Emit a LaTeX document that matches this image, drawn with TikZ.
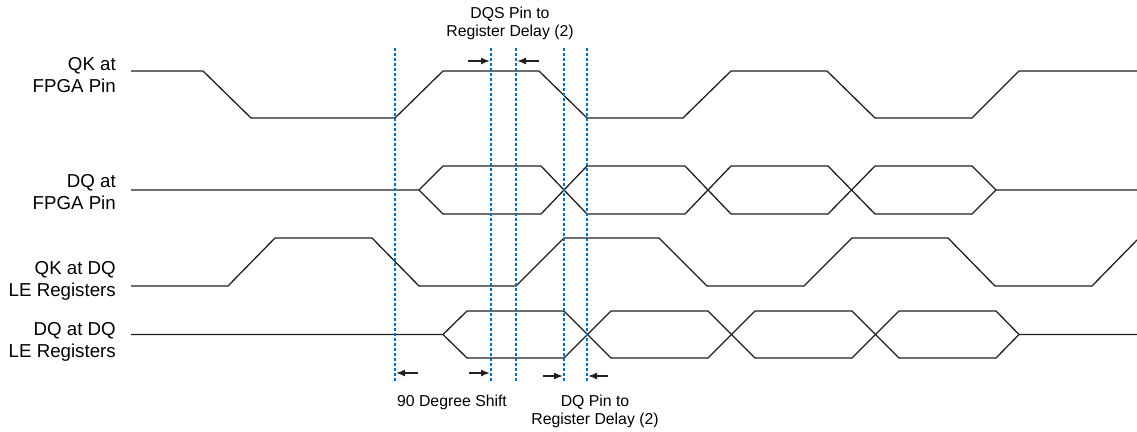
\documentclass[tikz,border=0pt]{standalone}
\usepackage{fontspec}
\setmainfont{Liberation Sans}
\usetikzlibrary{arrows.meta,positioning}
\definecolor{WaveBlack}{RGB}{35,31,32}
\definecolor{MarkBlue}{RGB}{0,114,188}
\tikzset{
  wave/.style={draw=WaveBlack,line width=1.3pt,line join=miter},
  marker/.style={draw=MarkBlue,line width=1.2pt,dash pattern=on 3pt off 2pt},
  dimarrow/.style={-{Latex[length=9pt,width=7pt]},draw=WaveBlack,line width=1.5pt},
  siglabel/.style={anchor=east,align=right,inner sep=0pt,font=\fontsize{18.7}{22}\selectfont},
  notelabel/.style={align=center,inner sep=0pt,font=\fontsize{15.8}{18}\selectfont}
}

\begin{document}
\begin{tikzpicture}[x=1pt,y=-1pt]
\useasboundingbox (0,0) rectangle (1137,431);

% signal names
\node[siglabel] (qkpin) at (116,75) {QK at\\FPGA Pin};
\node[siglabel] (dqpin) at (116,192) {DQ at\\FPGA Pin};
\node[siglabel] (qkreg) at (116,281) {QK at DQ\\LE Registers};
\node[siglabel] (dqreg) at (116,342) {DQ at DQ\\LE Registers};

% QK at FPGA pin
\draw[wave] (131,71) -- (203,71) -- (251,118) -- (395,118) -- (443,71) -- (539,71)
  -- (587,118) -- (683,118) -- (731,71) -- (827,71) -- (875,118) -- (972,118)
  -- (1019,71) -- (1137,71);

% DQ at FPGA pin
\draw[wave] (131,190) -- (419,190) -- (443,166) -- (541,166) -- (587,214) -- (685,214)
  -- (731,166) -- (828,166) -- (875,214) -- (972,214) -- (996,190) -- (1137,190);
\draw[wave] (419,190) -- (443,214) -- (541,214) -- (587,166) -- (685,166)
  -- (731,214) -- (828,214) -- (875,166) -- (972,166) -- (996,190);

% QK at DQ LE registers
\draw[wave] (131,286) -- (228,286) -- (275,238) -- (372,238) -- (419,286) -- (516,286)
  -- (564,238) -- (659,238) -- (707,286) -- (804,286) -- (852,238) -- (948,238)
  -- (995,286) -- (1092,286) -- (1137,240);

% DQ at DQ LE registers
\draw[wave] (131,334.5) -- (443,334.5) -- (467,311) -- (564,311) -- (611,358) -- (708,358)
  -- (755,311) -- (852,311) -- (899,358) -- (996,358) -- (1019,334.5) -- (1137,334.5);
\draw[wave] (443,334.5) -- (467,358) -- (564,358) -- (611,311) -- (708,311)
  -- (755,358) -- (852,358) -- (899,311) -- (996,311) -- (1019,334.5);

% timing markers
\foreach \name/\xpos in {ma/395,mb/491,mc/516,md/564,me/587}{
  \coordinate (\name top) at (\xpos,48);
  \coordinate (\name bot) at (\xpos,382);
  \draw[marker] (\name top) -- (\name bot);
}

% delay arrows
\coordinate (ta) at (468,61);
\coordinate (tb) at (490,61);
\coordinate (tc) at (539,61);
\coordinate (td) at (517,61);
\draw[dimarrow] (ta) -- (tb);
\draw[dimarrow] (tc) -- (td);

\coordinate (ba) at (418,373);
\coordinate (bb) at (396,373);
\coordinate (bc) at (469,373);
\coordinate (bd) at (490,373);
\coordinate (be) at (543,376);
\coordinate (bf) at (563,376);
\coordinate (bg) at (608,376);
\coordinate (bh) at (588,376);
\draw[dimarrow] (ba) -- (bb);
\draw[dimarrow] (bc) -- (bd);
\draw[dimarrow] (be) -- (bf);
\draw[dimarrow] (bg) -- (bh);

% notes
\node[notelabel] (dqsnote) at (510,23.5) {DQS Pin to\\Register Delay (2)};
\node[notelabel] (shiftnote) at (452,402) {90 Degree Shift};
\node[notelabel] (dqnote) at (595,411) {DQ Pin to\\Register Delay (2)};
\end{tikzpicture}
\end{document}
